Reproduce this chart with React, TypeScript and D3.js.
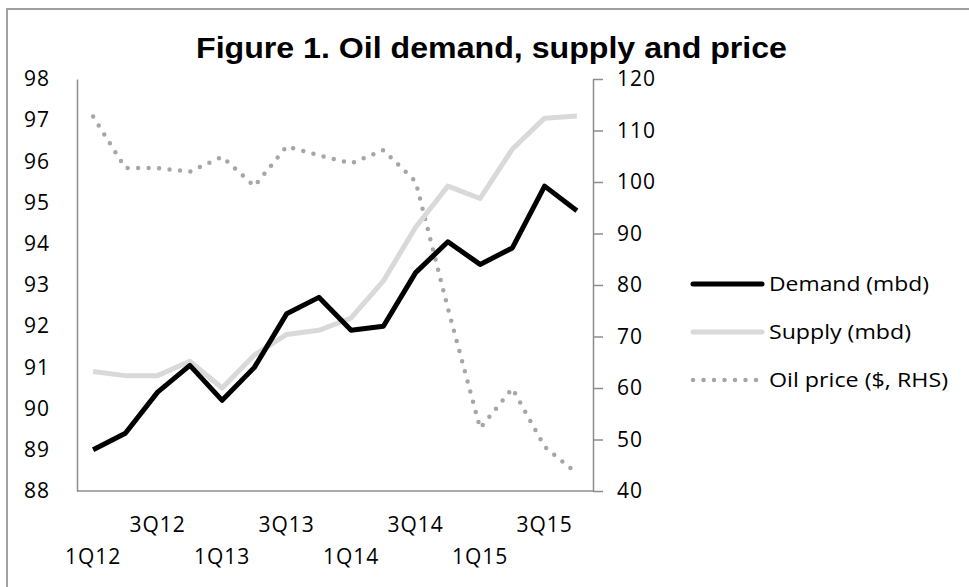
import React, { useEffect, useRef } from "react";
import * as d3 from "d3";

const quarters = [
  "1Q12", "2Q12", "3Q12", "4Q12",
  "1Q13", "2Q13", "3Q13", "4Q13",
  "1Q14", "2Q14", "3Q14", "4Q14",
  "1Q15", "2Q15", "3Q15", "4Q15",
];
const demand = [89.0, 89.4, 90.4, 91.05, 90.2, 91.0, 92.3, 92.7, 91.9, 92.0, 93.3, 94.05, 93.5, 93.9, 95.4, 94.8];
const supply = [90.9, 90.8, 90.8, 91.15, 90.5, 91.3, 91.8, 91.9, 92.2, 93.1, 94.4, 95.4, 95.1, 96.3, 97.05, 97.1];
const oilPrice = [112.7, 102.7, 102.7, 102.0, 104.9, 99.2, 106.9, 105.2, 103.6, 106.2, 100.1, 75.5, 52.2, 59.9, 48.6, 43.4];
const leftTicks = [88, 89, 90, 91, 92, 93, 94, 95, 96, 97, 98];
const rightTicks = [40, 50, 60, 70, 80, 90, 100, 110, 120];

const legendItems = [
  { label: "Demand (mbd)", color: "#000000", width: 5, dash: null, textW: 160 },
  { label: "Supply (mbd)", color: "#d9d9d9", width: 5, dash: null, textW: 142 },
  { label: "Oil price ($, RHS)", color: "#a6a6a6", width: 4.5, dash: "0 10.5", textW: 179 },
];

const W = 969;
const H = 587;
const plot = { left: 77, right: 593, top: 79, bottom: 491 };
const tickFont = "'Open Sans', 'Liberation Sans', sans-serif";

const App = () => {
  const ref = useRef<SVGSVGElement | null>(null);

  useEffect(() => {
    const svg = d3.select(ref.current);
    svg.selectAll("*").remove();

    const x = d3.scalePoint<string>()
      .domain(quarters)
      .range([plot.left, plot.right])
      .padding(0.5);
    const yL = d3.scaleLinear().domain([88, 98]).range([plot.bottom, plot.top]);
    const yR = d3.scaleLinear().domain([40, 120]).range([plot.bottom, plot.top]);

    // outer frame
    svg.append("path")
      .attr("d", `M7,${H + 5} L7,9 L${W + 5},9`)
      .attr("fill", "none")
      .attr("stroke", "#a0a0a0")
      .attr("stroke-width", 2);

    // title
    svg.append("text")
      .attr("x", 196)
      .attr("y", 58)
      .attr("textLength", 591)
      .attr("lengthAdjust", "spacingAndGlyphs")
      .attr("font-family", "'Liberation Sans Narrow', 'Liberation Sans', Arial, sans-serif")
      .attr("font-weight", "bold")
      .attr("font-size", 29)
      .attr("fill", "#000")
      .text("Figure 1. Oil demand, supply and price");

    // left axis (line only, labels)
    const gL = svg.append("g")
      .attr("transform", `translate(${plot.left},0)`)
      .call(d3.axisLeft(yL).tickValues(leftTicks).tickSize(0).tickPadding(27));
    gL.select(".domain").attr("stroke", "#8c8c8c").attr("stroke-width", 1.5);
    gL.selectAll("text")
      .attr("font-family", tickFont)
      .attr("font-size", 21)
      .attr("letter-spacing", 1)
      .attr("fill", "#000");

    // right axis with outward ticks
    const gR = svg.append("g")
      .attr("transform", `translate(${plot.right},0)`)
      .call(d3.axisRight(yR).tickValues(rightTicks).tickSize(10).tickSizeOuter(0).tickPadding(14));
    gR.select(".domain").attr("stroke", "#8c8c8c").attr("stroke-width", 1.5);
    gR.selectAll("line").attr("stroke", "#8c8c8c").attr("stroke-width", 1.5);
    gR.selectAll("text")
      .attr("font-family", tickFont)
      .attr("font-size", 21)
      .attr("letter-spacing", 1)
      .attr("fill", "#000");

    // x axis baseline
    svg.append("line")
      .attr("x1", plot.left)
      .attr("x2", plot.right)
      .attr("y1", plot.bottom)
      .attr("y2", plot.bottom)
      .attr("stroke", "#8c8c8c")
      .attr("stroke-width", 1.5);

    // category labels, every second quarter on alternating rows
    svg.append("g")
      .selectAll("text")
      .data(quarters.filter((_, i) => i % 2 === 0))
      .enter()
      .append("text")
      .attr("x", d => x(d)!)
      .attr("y", (_, i) => (i % 2 === 0 ? 564 : 532))
      .attr("text-anchor", "middle")
      .attr("font-family", tickFont)
      .attr("font-size", 21)
      .attr("letter-spacing", 1)
      .attr("fill", "#000")
      .text(d => d);

    const lineL = d3.line<number>()
      .x((_, i) => x(quarters[i])!)
      .y(d => yL(d));
    const lineR = d3.line<number>()
      .x((_, i) => x(quarters[i])!)
      .y(d => yR(d));

    svg.append("path")
      .datum(oilPrice)
      .attr("d", lineR)
      .attr("fill", "none")
      .attr("stroke", "#a6a6a6")
      .attr("stroke-width", 4.5)
      .attr("stroke-linecap", "round")
      .attr("stroke-dasharray", "0 10.5");

    svg.append("path")
      .datum(supply)
      .attr("d", lineL)
      .attr("fill", "none")
      .attr("stroke", "#d9d9d9")
      .attr("stroke-width", 5)
      .attr("stroke-linejoin", "round");

    svg.append("path")
      .datum(demand)
      .attr("d", lineL)
      .attr("fill", "none")
      .attr("stroke", "#000")
      .attr("stroke-width", 5)
      .attr("stroke-linejoin", "round");

    // legend
    const lg = svg.append("g");
    legendItems.forEach((item, i) => {
      const yy = 284 + i * 48;
      lg.append("line")
        .attr("x1", 693)
        .attr("x2", 762)
        .attr("y1", yy)
        .attr("y2", yy)
        .attr("stroke", item.color)
        .attr("stroke-width", item.width)
        .attr("stroke-linecap", "round")
        .attr("stroke-dasharray", item.dash);
      lg.append("text")
        .attr("x", 769)
        .attr("y", yy + 7)
        .attr("textLength", item.textW)
        .attr("lengthAdjust", "spacingAndGlyphs")
        .attr("font-family", tickFont)
        .attr("font-size", 20)
        .attr("fill", "#000")
        .text(item.label);
    });
  }, []);

  return (
    <svg
      ref={ref}
      width={W}
      height={H}
      style={{ position: "absolute", left: 0, top: 0, background: "#fff" }}
    />
  );
};

export default App;
